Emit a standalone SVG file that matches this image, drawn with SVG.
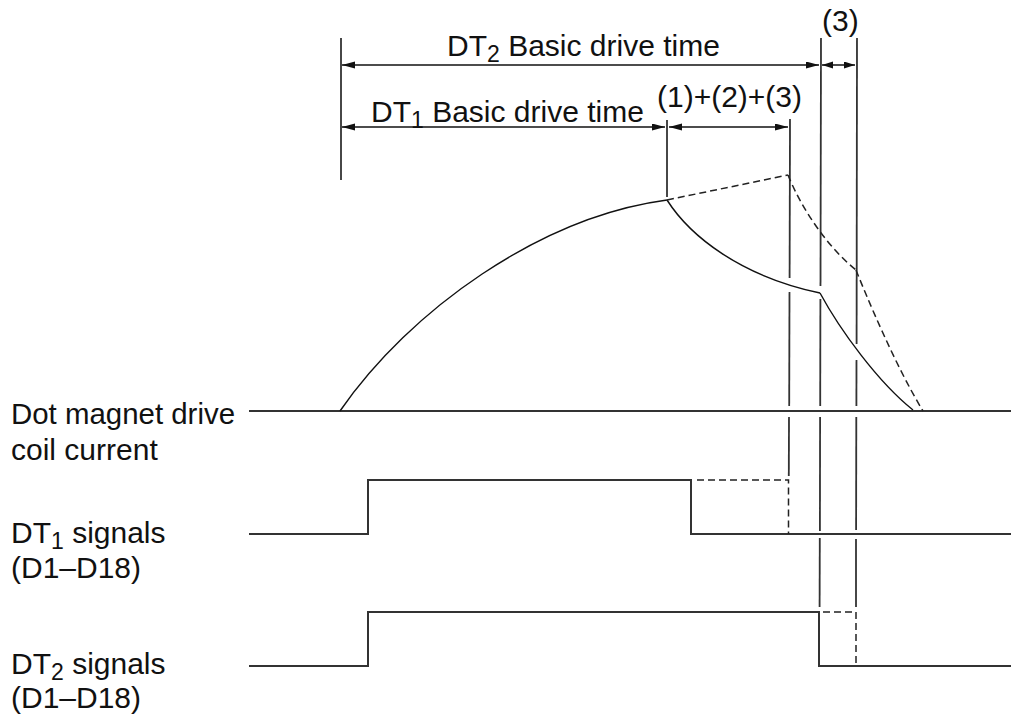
<svg xmlns="http://www.w3.org/2000/svg" width="1013" height="722" viewBox="0 0 1013 722">
<style>
text{font-family:"Liberation Sans",Arial,sans-serif;font-size:30px;fill:#111}
.sub{font-size:23px}
.ln{stroke:#333;stroke-width:1.8;fill:none}
.sig{stroke:#333;stroke-width:2;fill:none}
.cv{stroke:#111;stroke-width:1.4;fill:none}
.dash{stroke:#222;stroke-width:1.5;fill:none;stroke-dasharray:7 4}
.arr{stroke:#111;stroke-width:1.6;fill:none}
</style>
<defs>
<marker id="ah" markerUnits="userSpaceOnUse" markerWidth="13" markerHeight="8" refX="13" refY="3.5" orient="auto-start-reverse"><path d="M0,0 L13,3.5 L0,7 z" fill="#111"/></marker>
<marker id="ahs" markerUnits="userSpaceOnUse" markerWidth="11" markerHeight="8" refX="11" refY="3.5" orient="auto-start-reverse"><path d="M0,0 L11,3.5 L0,7 z" fill="#111"/></marker>
</defs>
<g id="labels">
<text x="11" y="424" textLength="224" lengthAdjust="spacingAndGlyphs">Dot magnet drive</text>
<text x="11" y="460">coil current</text>
<text x="11" y="543">DT<tspan class="sub" dy="6">1</tspan><tspan dy="-6"> signals</tspan></text>
<text x="11" y="578">(D1–D18)</text>
<text x="11" y="674">DT<tspan class="sub" dy="6">2</tspan><tspan dy="-6"> signals</tspan></text>
<text x="11" y="708">(D1–D18)</text>
<text x="447" y="56">DT<tspan class="sub" dy="6">2</tspan><tspan dy="-6"> Basic drive time</tspan></text>
<text x="371" y="122">DT<tspan class="sub" dy="6">1</tspan><tspan dy="-6"> Basic drive time</tspan></text>
<text x="822" y="31">(3)</text>
<text x="657" y="107">(1)+(2)+(3)</text>
</g>
<g id="guides">
<line class="ln" x1="341" y1="38" x2="341" y2="180"/>
<line class="ln" x1="667" y1="120" x2="667" y2="197"/>
<line class="ln" x1="790" y1="119" x2="789.6" y2="278"/>
<line class="ln" x1="789.5" y1="292" x2="789.2" y2="406"/>
<line class="ln" x1="789" y1="417" x2="788.8" y2="476"/>
<line class="ln" x1="821" y1="38" x2="820.5" y2="286"/>
<line class="ln" x1="820.4" y1="299" x2="820.2" y2="406"/>
<line class="ln" x1="820.1" y1="417" x2="819.9" y2="531"/>
<line class="ln" x1="819.8" y1="538" x2="819.6" y2="607"/>
<line class="ln" x1="857" y1="38" x2="856.6" y2="344"/>
<line class="ln" x1="856.5" y1="360" x2="856.4" y2="406"/>
<line class="ln" x1="856.3" y1="417" x2="856.1" y2="530"/>
<line class="ln" x1="856" y1="539" x2="856" y2="607"/>
</g>
<g id="dimensions">
<line class="arr" x1="342" y1="65" x2="819" y2="65" marker-start="url(#ah)" marker-end="url(#ah)"/>
<line class="arr" x1="822" y1="65" x2="855" y2="65" marker-start="url(#ahs)" marker-end="url(#ahs)"/>
<line class="arr" x1="342" y1="127" x2="665" y2="127" marker-start="url(#ah)" marker-end="url(#ah)"/>
<line class="arr" x1="669" y1="127" x2="788" y2="127" marker-start="url(#ah)" marker-end="url(#ah)"/>
</g>
<g id="current">
<line class="sig" x1="249" y1="411" x2="1011" y2="411" stroke="#555"/>
<path class="cv" d="M340,411 C410,310 540,217 667,200"/>
<path class="cv" d="M667,200 C690,236 740,276 820,293"/>
<path class="cv" d="M820,293 C840,330 878,382 913,410"/>
<path class="dash" d="M667,200 L788,175"/>
<path class="dash" d="M788,175 C800,205 825,245 856,270"/>
<path class="dash" d="M856,270 C866,295 895,365 923,411"/>
</g>
<g id="dt1-signal">
<path class="sig" d="M249,534 H368 V480 H691 V534 H1011"/>
<path class="dash" d="M697,480 H788.5 V534"/>
</g>
<g id="dt2-signal">
<path class="sig" d="M249,666 H368 V612 H819 V666 H1011"/>
<path class="dash" d="M823,612 H856 V666"/>
</g>
</svg>
